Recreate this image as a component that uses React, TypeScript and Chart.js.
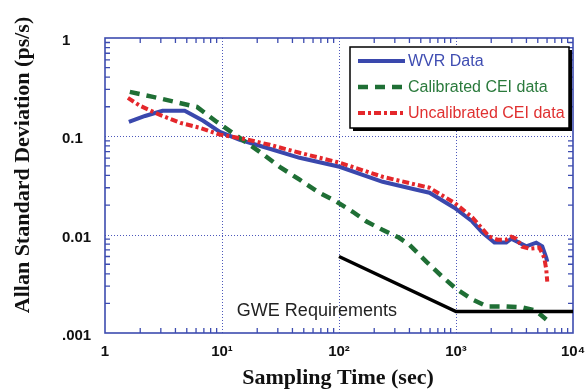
import React, { useEffect, useRef } from "react";
import { Chart, registerables } from "chart.js";

Chart.register(...registerables);

// ---- data ----
const wvrTau = [1.6, 2.2, 3.1, 4.8, 6.9, 9.6, 14.2, 25.6, 46, 101, 236, 459, 593, 968, 1380, 1680, 2130, 2690, 2970, 3990, 4850, 5460, 5910, 6030];
const wvrSigma = [0.14, 0.161, 0.182, 0.182, 0.144, 0.111, 0.092, 0.0747, 0.0605, 0.049, 0.0345, 0.0286, 0.0267, 0.0188, 0.0136, 0.0105, 0.0083, 0.0083, 0.0091, 0.0076, 0.0083, 0.0076, 0.0058, 0.0053];

const calTau = [1.63, 2.57, 3.96, 6.11, 9.04, 12.9, 21.0, 31.1, 46.1, 65.6, 95.5, 131, 172, 235, 327, 400, 560, 770, 1010, 1370, 1850, 2690, 3680, 4810, 5910];
const calSigma = [0.283, 0.252, 0.224, 0.199, 0.14, 0.104, 0.0696, 0.049, 0.0362, 0.0273, 0.0216, 0.0171, 0.0136, 0.0112, 0.0093, 0.0079, 0.0053, 0.0037, 0.0028, 0.0022, 0.00186, 0.00186, 0.00182, 0.00169, 0.00137];

const uncalTau = [1.57, 2.0, 2.95, 4.4, 6.5, 9.6, 15.6, 25.6, 46, 101, 236, 459, 593, 968, 1380, 1928, 2256, 2692, 2970, 3276, 3686, 4230, 5150, 5680, 5910, 6025];
const uncalSigma = [0.246, 0.204, 0.165, 0.137, 0.122, 0.104, 0.094, 0.082, 0.068, 0.054, 0.0388, 0.0322, 0.03, 0.0211, 0.015, 0.00955, 0.0089, 0.0089, 0.00955, 0.0091, 0.00755, 0.0072, 0.00738, 0.00584, 0.00441, 0.00333];

const gweTau = [100, 1000, 10000];
const gweSigma = [0.006, 0.00165, 0.00165];

const xTickValues = [1, 10, 100, 1000, 10000];
const xTickLabels = ["1", "10\u00B9", "10\u00B2", "10\u00B3", "10\u2074"];
const yTickValues = [0.001, 0.01, 0.1, 1];
const yTickLabels = [".001", "0.01", "0.1", "1"];

const seriesLabels = ["WVR Data", "Calibrated CEI data", "Uncalibrated CEI data", "GWE Requirements"];
const xTitle = "Sampling Time (sec)";
const yTitle = "Allan Standard Deviation (ps/s)";
const gweText = "GWE Requirements";

// ---- styles ----
const BLUE = "#3a48ad";
const GREEN = "#1f6f35";
const RED = "#e4272b";
const FRAME = "#3d4cb0";
const SANS = "'Liberation Sans', Arial, sans-serif";
const SERIF = "'Liberation Serif', 'Times New Roman', serif";

const toPoints = (xs: number[], ys: number[]) => xs.map((x, i) => ({ x, y: ys[i] }));

const decorPlugin = {
  id: "decor",
  beforeDatasetsDraw(chart: any) {
    const { ctx, chartArea: a, scales } = chart;
    const xs = scales.x;
    const ys = scales.y;
    ctx.save();
    // dotted decade grid
    ctx.strokeStyle = "#4d58bb";
    ctx.lineWidth = 1;
    ctx.setLineDash([1, 2]);
    xTickValues.slice(1, -1).forEach((v) => {
      const p = Math.round(xs.getPixelForValue(v)) + 0.5;
      ctx.beginPath();
      ctx.moveTo(p, a.top);
      ctx.lineTo(p, a.bottom);
      ctx.stroke();
    });
    yTickValues.slice(1, -1).forEach((v) => {
      const p = Math.round(ys.getPixelForValue(v)) + 0.5;
      ctx.beginPath();
      ctx.moveTo(a.left, p);
      ctx.lineTo(a.right, p);
      ctx.stroke();
    });
    ctx.setLineDash([]);
    // minor ticks, inward on all sides
    ctx.strokeStyle = FRAME;
    ctx.lineWidth = 1.3;
    for (let d = 1; d < 10000; d *= 10) {
      for (let k = 2; k <= 9; k++) {
        const p = xs.getPixelForValue(k * d);
        const len = 5;
        ctx.beginPath();
        ctx.moveTo(p, a.bottom);
        ctx.lineTo(p, a.bottom - len);
        ctx.moveTo(p, a.top);
        ctx.lineTo(p, a.top + len);
        ctx.stroke();
      }
    }
    for (let d = 0.001; d < 0.9; d *= 10) {
      for (let k = 2; k <= 9; k++) {
        const p = ys.getPixelForValue(k * d);
        const len = 5;
        ctx.beginPath();
        ctx.moveTo(a.left, p);
        ctx.lineTo(a.left + len, p);
        ctx.moveTo(a.right, p);
        ctx.lineTo(a.right - len, p);
        ctx.stroke();
      }
    }
    // frame
    ctx.lineWidth = 1.6;
    ctx.strokeRect(a.left, a.top, a.right - a.left, a.bottom - a.top);
    ctx.restore();
  },
  afterDraw(chart: any) {
    const { ctx, chartArea: a, scales } = chart;
    const ds = chart.data.datasets;
    ctx.save();
    // legend box with shadow
    const bx = a.right - 223;
    const by = a.top + 9;
    const bw = 219;
    const bh = 81;
    ctx.fillStyle = "#000";
    ctx.fillRect(bx + 3, by + 3, bw, bh);
    ctx.fillStyle = "#fff";
    ctx.fillRect(bx, by, bw, bh);
    ctx.strokeStyle = "#000";
    ctx.lineWidth = 1.5;
    ctx.strokeRect(bx, by, bw, bh);
    const textColors = ["#3f4db2", "#2a7a3c", "#e03030"];
    for (let i = 0; i < 3; i++) {
      const y = by + 14 + i * 26;
      ctx.strokeStyle = ds[i].borderColor;
      ctx.lineWidth = ds[i].borderWidth;
      ctx.setLineDash(ds[i].borderDash || []);
      ctx.beginPath();
      ctx.moveTo(bx + 8, y);
      ctx.lineTo(bx + 55, y);
      ctx.stroke();
      ctx.setLineDash([]);
      ctx.fillStyle = textColors[i];
      ctx.font = `16px ${SANS}`;
      ctx.textAlign = "left";
      ctx.textBaseline = "middle";
      ctx.fillText(ds[i].label, bx + 58, y + 1);
    }
    // GWE annotation
    ctx.fillStyle = "#222";
    ctx.font = `18px ${SANS}`;
    ctx.textAlign = "left";
    ctx.textBaseline = "middle";
    ctx.fillText(gweText, scales.x.getPixelForValue(13.4), scales.y.getPixelForValue(0.00168));
    // axis titles
    ctx.fillStyle = "#111";
    ctx.font = `bold 22px ${SERIF}`;
    ctx.textAlign = "center";
    ctx.textBaseline = "middle";
    ctx.fillText(xTitle, 338, 378);
    ctx.translate(23, 165);
    ctx.rotate(-Math.PI / 2);
    ctx.fillText(yTitle, 0, 0);
    ctx.restore();
  },
};

export default function App() {
  const canvasRef = useRef<HTMLCanvasElement | null>(null);

  useEffect(() => {
    if (!canvasRef.current) return;
    const chart = new Chart(canvasRef.current, {
      type: "line",
      data: {
        datasets: [
          {
            label: seriesLabels[0],
            data: toPoints(wvrTau, wvrSigma),
            borderColor: BLUE,
            borderWidth: 4,
            pointRadius: 0,
            tension: 0,
            fill: false,
            order: 3,
          },
          {
            label: seriesLabels[1],
            data: toPoints(calTau, calSigma),
            borderColor: GREEN,
            borderWidth: 4.5,
            borderDash: [10, 7],
            pointRadius: 0,
            tension: 0,
            fill: false,
            order: 2,
          },
          {
            label: seriesLabels[2],
            data: toPoints(uncalTau, uncalSigma),
            borderColor: RED,
            borderWidth: 4,
            borderDash: [7, 3, 3, 3],
            pointRadius: 0,
            tension: 0,
            fill: false,
            order: 1,
          },
          {
            label: seriesLabels[3],
            data: toPoints(gweTau, gweSigma),
            borderColor: "#000",
            borderWidth: 3.5,
            pointRadius: 0,
            tension: 0,
            fill: false,
            order: 0,
          },
        ],
      },
      options: {
        animation: false,
        responsive: true,
        maintainAspectRatio: false,
        layout: { padding: { left: 62, top: 38, right: 12, bottom: 0 } },
        plugins: { legend: { display: false }, tooltip: { enabled: false }, title: { display: false } },
        scales: {
          x: {
            type: "logarithmic",
            position: "bottom",
            min: 1,
            max: 10000,
            grid: { display: false, drawTicks: false },
            border: { display: false },
            afterBuildTicks: (s: any) => {
              s.ticks = xTickValues.map((value) => ({ value }));
            },
            afterFit: (s: any) => {
              s.height = 57;
              s.paddingLeft = 0;
              s.paddingRight = 0;
            },
            ticks: {
              autoSkip: false,
              maxRotation: 0,
              padding: 10,
              color: "#111",
              font: { family: SANS, size: 15, weight: "bold" },
              callback: (_v: any, i: number) => xTickLabels[i],
            },
          },
          y: {
            type: "logarithmic",
            position: "left",
            min: 0.001,
            max: 1,
            grid: { display: false, drawTicks: false },
            border: { display: false },
            afterBuildTicks: (s: any) => {
              s.ticks = yTickValues.map((value) => ({ value }));
            },
            afterFit: (s: any) => {
              s.width = 43;
              s.paddingTop = 0;
              s.paddingBottom = 0;
            },
            ticks: {
              autoSkip: false,
              crossAlign: "far",
              labelOffset: 3,
              color: "#111",
              font: { family: SANS, size: 15, weight: "bold" },
              callback: (_v: any, i: number) => yTickLabels[i],
            },
          },
        },
      },
      plugins: [decorPlugin],
    } as any);
    return () => chart.destroy();
  }, []);

  return (
    <div style={{ position: "absolute", left: 0, top: 0, width: 585, height: 390, background: "#fff" }}>
      <canvas ref={canvasRef} />
    </div>
  );
}
